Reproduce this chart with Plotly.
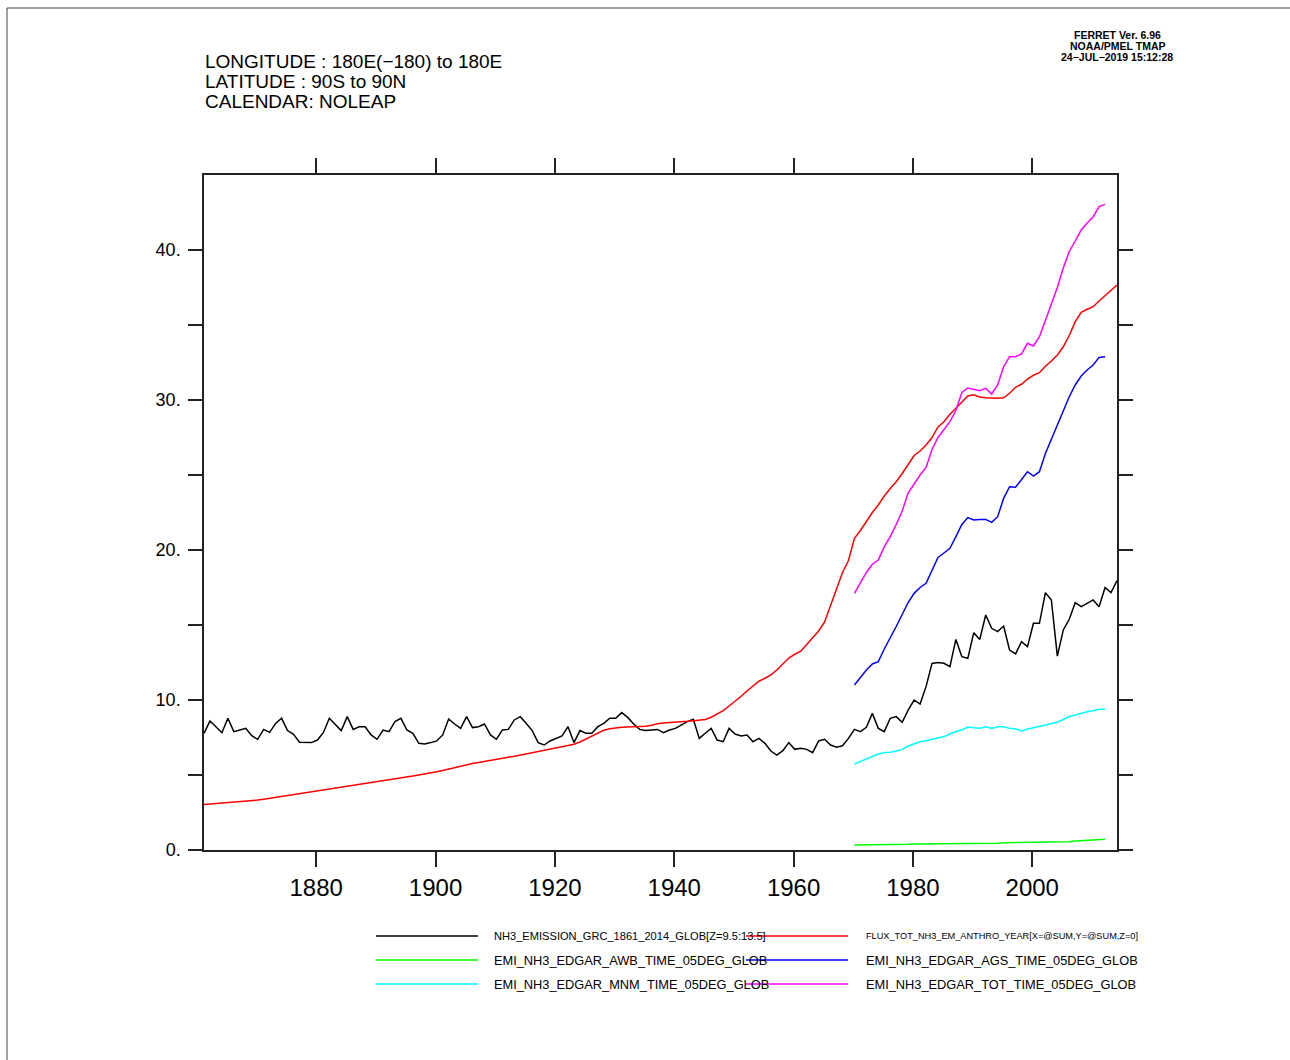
import plotly.graph_objects as go

# ---------------- data ----------------
years_long = list(range(1861, 2015))
years_edgar = list(range(1970, 2013))

nh3_grc = [
    7.78, 8.60, 8.22, 7.82, 8.78, 7.89, 8.00, 8.11, 7.62, 7.38,
    8.04, 7.84, 8.44, 8.78, 7.96, 7.71, 7.18, 7.16, 7.16, 7.33,
    7.82, 8.78, 8.40, 7.96, 8.89, 8.04, 8.22, 8.22, 7.67, 7.38,
    8.00, 7.89, 8.56, 8.78, 8.00, 7.78, 7.11, 7.07, 7.16, 7.27,
    7.67, 8.73, 8.40, 8.11, 8.89, 8.16, 8.22, 8.40, 7.67, 7.38,
    8.00, 8.04, 8.67, 8.89, 8.44, 7.96, 7.16, 7.00, 7.27, 7.44,
    7.60, 8.22, 7.16, 7.96, 7.78, 7.78, 8.22, 8.44, 8.78, 8.78,
    9.16, 8.84, 8.40, 8.04, 7.96, 8.00, 8.04, 7.82, 8.00, 8.11,
    8.33, 8.56, 8.71, 7.44, 7.78, 8.11, 7.33, 7.22, 8.11, 7.73,
    7.60, 7.67, 7.22, 7.44, 7.11, 6.60, 6.33, 6.62, 7.16, 6.71,
    6.78, 6.71, 6.49, 7.27, 7.38, 7.00, 6.85, 6.95, 7.44, 8.04,
    7.89, 8.18, 9.11, 8.11, 7.89, 8.78, 8.89, 8.51, 9.33, 10.00,
    9.73, 10.89, 12.44, 12.50, 12.45, 12.22, 14.04, 12.89, 12.78, 14.49,
    14.04, 15.67, 14.78, 14.56, 14.93, 13.33, 13.07, 13.89, 13.56, 15.11,
    15.11, 17.16, 16.67, 12.93, 14.67, 15.38, 16.49, 16.22, 16.44, 16.67,
    16.22, 17.49, 17.16, 17.96,
]

flux_anthro = [
    3.04, 3.07, 3.10, 3.13, 3.16, 3.19, 3.22, 3.25, 3.29, 3.33,
    3.39, 3.45, 3.51, 3.57, 3.63, 3.69, 3.75, 3.81, 3.88, 3.94,
    4.00, 4.06, 4.12, 4.18, 4.24, 4.30, 4.36, 4.42, 4.48, 4.54,
    4.60, 4.66, 4.72, 4.79, 4.86, 4.93, 5.00, 5.06, 5.14, 5.22,
    5.30, 5.40, 5.50, 5.60, 5.68, 5.76, 5.84, 5.92, 6.00, 6.07,
    6.13, 6.19, 6.25, 6.31, 6.40, 6.48, 6.57, 6.65, 6.72, 6.79,
    6.86, 6.95, 7.05, 7.20, 7.40, 7.60, 7.82, 7.98, 8.08, 8.14,
    8.18, 8.20, 8.21, 8.22, 8.25, 8.32, 8.42, 8.46, 8.48, 8.51,
    8.54, 8.58, 8.62, 8.66, 8.70, 8.85, 9.05, 9.29, 9.60, 9.90,
    10.25, 10.60, 10.95, 11.25, 11.45, 11.67, 12.00, 12.40, 12.80, 13.05,
    13.25, 13.70, 14.15, 14.60, 15.20, 16.30, 17.50, 18.50, 19.30, 20.78,
    21.30, 21.90, 22.50, 23.00, 23.60, 24.10, 24.55, 25.10, 25.70, 26.30,
    26.60, 27.00, 27.50, 28.20, 28.55, 29.05, 29.45, 29.85, 30.27, 30.35,
    30.20, 30.15, 30.11, 30.11, 30.15, 30.45, 30.85, 31.05, 31.40, 31.65,
    31.82, 32.25, 32.60, 33.00, 33.55, 34.30, 35.22, 35.85, 36.05, 36.22,
    36.60, 36.95, 37.33, 37.67,
]

edgar_awb = [
    0.33, 0.33, 0.34, 0.34, 0.35, 0.35, 0.36, 0.36, 0.37, 0.38,
    0.40, 0.40, 0.41, 0.41, 0.42, 0.42, 0.42, 0.43, 0.43, 0.43,
    0.44, 0.44, 0.44, 0.45, 0.45, 0.48, 0.49, 0.49, 0.50, 0.50,
    0.50, 0.51, 0.51, 0.52, 0.52, 0.53, 0.55, 0.60, 0.62, 0.63,
    0.65, 0.70, 0.72,
]

edgar_ags = [
    11.00, 11.50, 12.00, 12.40, 12.56, 13.40, 14.11, 14.90, 15.70, 16.50,
    17.11, 17.50, 17.78, 18.70, 19.50, 19.80, 20.11, 20.89, 21.70, 22.16,
    22.00, 22.04, 22.04, 21.84, 22.22, 23.44, 24.22, 24.18, 24.67, 25.22,
    24.93, 25.22, 26.44, 27.40, 28.30, 29.20, 30.22, 31.00, 31.60, 32.00,
    32.33, 32.84, 32.89,
]

edgar_mnm = [
    5.73, 5.90, 6.05, 6.22, 6.40, 6.50, 6.51, 6.60, 6.71, 6.93,
    7.10, 7.22, 7.29, 7.38, 7.48, 7.56, 7.73, 7.90, 8.00, 8.20,
    8.15, 8.11, 8.22, 8.11, 8.22, 8.22, 8.11, 8.07, 7.93, 8.07,
    8.15, 8.25, 8.33, 8.42, 8.52, 8.70, 8.90, 9.00, 9.12, 9.22,
    9.29, 9.38, 9.38,
]

edgar_tot = [
    17.11, 17.78, 18.50, 19.05, 19.33, 20.22, 20.89, 21.70, 22.60, 23.80,
    24.44, 25.00, 25.50, 26.70, 27.50, 28.00, 28.56, 29.30, 30.50, 30.80,
    30.70, 30.62, 30.78, 30.40, 31.00, 32.22, 32.89, 32.89, 33.07, 33.78,
    33.60, 34.22, 35.30, 36.40, 37.50, 38.80, 39.90, 40.60, 41.33, 41.80,
    42.22, 42.89, 43.04,
]

x_tickvals = [1880, 1900, 1920, 1940, 1960, 1980, 2000]
y_tickvals = [0, 5, 10, 15, 20, 25, 30, 35, 40]
y_ticktext = ["0.", "", "10.", "", "20.", "", "30.", "", "40."]

series = [
    ("NH3_EMISSION_GRC_1861_2014_GLOB[Z=9.5:13.5]", years_long, nh3_grc, "#000000"),
    ("FLUX_TOT_NH3_EM_ANTHRO_YEAR[X=@SUM,Y=@SUM,Z=0]", years_long, flux_anthro, "#ff0000"),
    ("EMI_NH3_EDGAR_AWB_TIME_05DEG_GLOB", years_edgar, edgar_awb, "#00ff00"),
    ("EMI_NH3_EDGAR_AGS_TIME_05DEG_GLOB", years_edgar, edgar_ags, "#0000ff"),
    ("EMI_NH3_EDGAR_MNM_TIME_05DEG_GLOB", years_edgar, edgar_mnm, "#00ffff"),
    ("EMI_NH3_EDGAR_TOT_TIME_05DEG_GLOB", years_edgar, edgar_tot, "#ff00ff"),
]

# ---------------- layout geometry ----------------
W, H = 1290, 1060
L, R, T, B = 204, 1117, 175, 850
PW, PH = R - L, B - T


def px(xp):
    return (xp - L) / PW


def py(yp):
    return (B - yp) / PH


FONT = "Liberation Sans"

fig = go.Figure()
for name, xs, ys, col in series:
    fig.add_trace(go.Scatter(
        x=[v + 0.2 for v in xs], y=ys, mode="lines", name=name,
        line=dict(color=col, width=1.5), showlegend=False,
    ))

axis_common = dict(
    showgrid=False, zeroline=False, showline=True, linecolor="#222222",
    linewidth=1.5, mirror="allticks", ticks="outside", tickcolor="#222222",
    tickwidth=1.5,
)

fig.update_xaxes(
    range=[1861.2, 2014.2], tickvals=x_tickvals, ticklen=15,
    tickfont=dict(family=FONT, size=24, color="#000"), **axis_common,
)
fig.update_yaxes(
    range=[0, 45], tickvals=y_tickvals, ticktext=y_ticktext, ticklen=14,
    ticklabelstandoff=4,
    tickfont=dict(family=FONT, size=18, color="#000"), **axis_common,
)

annotations = []
# header
for i, txt in enumerate(["LONGITUDE : 180E(\u2212180) to 180E",
                         "LATITUDE : 90S to 90N",
                         "CALENDAR: NOLEAP"]):
    annotations.append(dict(
        x=px(203), y=py(62 + i * 19.5), xref="paper", yref="paper",
        xanchor="left", yanchor="middle", showarrow=False, text=txt,
        font=dict(family=FONT, size=19, color="#000"),
    ))
# Ferret stamp
for i, txt in enumerate(["FERRET Ver. 6.96", "NOAA/PMEL TMAP", "24\u2212JUL\u22122019 15:12:28"]):
    annotations.append(dict(
        x=px(1117), y=py(35 + i * 11), xref="paper", yref="paper",
        xanchor="center", yanchor="middle", showarrow=False, text=txt,
        font=dict(family=FONT, size=10.5, color="#000", weight="bold"),
    ))

shapes = []
# legend: (series index, line x0, line x1, text x, row y, font size)
legend_layout = [
    (0, 376, 478, 492, 936, 11.1),
    (1, 746, 848, 864, 936, 9.2),
    (2, 376, 478, 492, 960, 12.8),
    (3, 746, 848, 864, 960, 12.8),
    (4, 376, 478, 492, 984, 12.8),
    (5, 746, 848, 864, 984, 12.8),
]
for idx, x0, x1, xt, yy, fs in legend_layout:
    name, _, _, col = series[idx]
    shapes.append(dict(type="line", xref="paper", yref="paper",
                       x0=px(x0), x1=px(x1), y0=py(yy), y1=py(yy),
                       line=dict(color=col, width=1.5)))
    annotations.append(dict(
        x=px(xt), y=py(yy), xref="paper", yref="paper", xanchor="left",
        yanchor="middle", showarrow=False, text=name,
        font=dict(family=FONT, size=fs, color="#000"),
    ))

# page frame
shapes.append(dict(type="line", xref="paper", yref="paper",
                   x0=px(7), x1=px(1290), y0=py(8), y1=py(8),
                   line=dict(color="#444", width=1)))
shapes.append(dict(type="line", xref="paper", yref="paper",
                   x0=px(7), x1=px(7), y0=py(8), y1=py(1060),
                   line=dict(color="#444", width=1)))

fig.update_layout(
    width=W, height=H, autosize=False,
    margin=dict(l=L, r=W - R, t=T, b=H - B, pad=0),
    paper_bgcolor="white", plot_bgcolor="white",
    annotations=annotations, shapes=shapes, showlegend=False,
)

fig.write_html("out.html")
